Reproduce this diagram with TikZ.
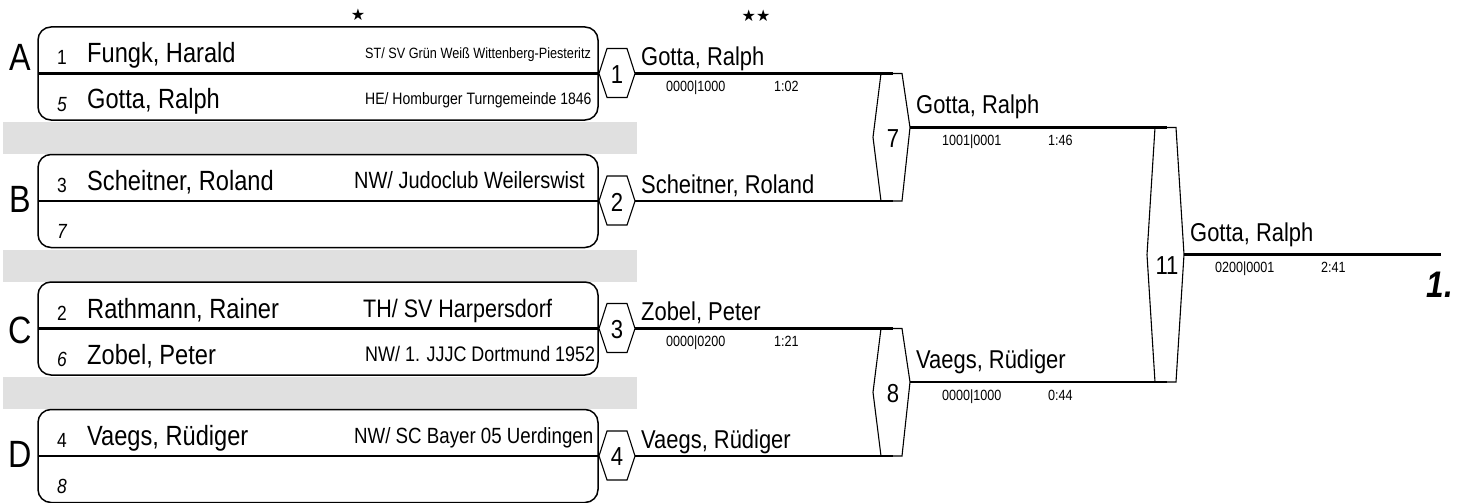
\documentclass[tikz,border=0pt]{standalone}
\usepackage{fontspec}
\setmainfont{Liberation Sans}[FakeStretch=0.85]
\newfontfamily\symfont{DejaVu Sans}
\definecolor{bandgray}{RGB}{224,224,224}
\tikzset{
  boxframe/.style={draw, line width=1.5pt, rounded corners=13pt},
  divline/.style={line width=2.6pt},
  hexframe/.style={draw, line width=1.1pt, line join=miter},
  bline/.style={line width=2.6pt},
  poolletter/.style={font=\fontsize{38}{38}\selectfont, inner sep=0pt},
  seed/.style={font=\fontsize{20.5}{20}\selectfont, inner sep=0pt, anchor=base},
  boxname/.style={font=\fontsize{27.8}{28}\selectfont, inner sep=0pt, anchor=base west},
  club/.style={inner sep=0pt, anchor=base west},
  bname/.style={font=\fontsize{25.8}{26}\selectfont, inner sep=0pt, anchor=base west},
  score/.style={font=\fontsize{14.8}{15}\selectfont, inner sep=0pt, anchor=base west},
  hexnum/.style={font=\fontsize{26}{26}\selectfont, inner sep=0pt},
  starmark/.style={font=\symfont\fontsize{16}{16}\selectfont, inner sep=0pt},
}
% small hexagon: name, cx, cy, number
\newcommand\smallhex[4]{%
  \draw[hexframe] (#2-18,#3) -- (#2-10,#3-25) -- (#2+10,#3-25) -- (#2+18,#3)
     -- (#2+10,#3+24) -- (#2-10,#3+24) -- cycle;
  \node[hexnum] (#1) at (#2,#3+1) {#4};
  \coordinate (#1r) at (#2+18,#3);
}
% big hexagon: name, cx, ytop, ybot, yright, number
\newcommand\bighex[6]{%
  \draw[hexframe] (#2-20,{(#3+#4)/2}) -- (#2-12,#3) -- (#2+9,#3) -- (#2+17,#5)
     -- (#2+9,#4) -- (#2-12,#4) -- cycle;
  \node[hexnum, anchor=north] (#1) at (#2,#5+2) {#6};
  \coordinate (#1r) at (#2+17,#5);
  \coordinate (#1ina) at (#2,#3);
  \coordinate (#1inb) at (#2,#4);
}
\begin{document}
\begin{tikzpicture}[x=1pt,y=-1pt]
\useasboundingbox (0,0) rectangle (1465,503);

% gray bands
\fill[bandgray] (3,122) rectangle (637,154);
\fill[bandgray] (3,249.5) rectangle (637,281.5);
\fill[bandgray] (3,377) rectangle (637,409);

% stars
\node[starmark] (star1) at (358,15) {★};
\node[starmark] (star2) at (756,16) {★★};

% ---- Pool A (top 27)
\draw[boxframe] (38,27) rectangle (598,120);
\draw[divline] (38,73.5) -- (598,73.5);
\node[poolletter] (LA) at (20,57) {A};
\node[seed] (sA1) at (62,65) {1};
\node[seed] (sA2) at (62,111) {\itshape 5};
\node[boxname] (nA1) at (87,63) {Fungk, Harald};
\node[boxname] (nA2) at (87,109) {Gotta, Ralph};
\node[club, font=\fontsize{14.9}{15}\selectfont] (cA1) at (365,58.3) {ST/ SV Grün Weiß Wittenberg-Piesteritz};
\node[club, font=\fontsize{16.5}{16}\selectfont] (cA2) at (365,104.9) {HE/ Homburger Turngemeinde 1846};

% ---- Pool B (top 154.5)
\draw[boxframe] (38,154.5) rectangle (598,247.5);
\draw[divline] (38,201) -- (598,201);
\node[poolletter] (LB) at (20,199) {B};
\node[seed] (sB1) at (62,192.5) {3};
\node[seed] (sB2) at (62,238.5) {\itshape 7};
\node[boxname] (nB1) at (87,190.5) {Scheitner, Roland};
\node[club, font=\fontsize{23.5}{24}\selectfont] (cB1) at (354,188.9) {NW/ Judoclub Weilerswist};

% ---- Pool C (top 282)
\draw[boxframe] (38,282) rectangle (598,375);
\draw[divline] (38,328.5) -- (598,328.5);
\node[poolletter] (LC) at (20,330) {C};
\node[seed] (sC1) at (62,320) {2};
\node[seed] (sC2) at (62,366) {\itshape 6};
\node[boxname] (nC1) at (87,318) {Rathmann, Rainer};
\node[boxname] (nC2) at (87,364) {Zobel, Peter};
\node[club, font=\fontsize{25.3}{25}\selectfont] (cC1) at (363,317.1) {TH/ SV Harpersdorf};
\node[club, font=\fontsize{21.1}{21}\selectfont] (cC2) at (365,361.6) {NW/ 1. JJJC Dortmund 1952};

% ---- Pool D (top 409.5)
\draw[boxframe] (38,409.5) rectangle (598,502.5);
\draw[divline] (38,456) -- (598,456);
\node[poolletter] (LD) at (20,454) {D};
\node[seed] (sD1) at (62,447.5) {4};
\node[seed] (sD2) at (62,493.5) {\itshape 8};
\node[boxname] (nD1) at (87,445.5) {Vaegs, Rüdiger};
\node[club, font=\fontsize{22}{22}\selectfont] (cD1) at (354,443.4) {NW/ SC Bayer 05 Uerdingen};

% ---- hexagons
\smallhex{h1}{617}{73.5}{1}
\smallhex{h2}{617}{201}{2}
\smallhex{h3}{617}{328.5}{3}
\smallhex{h4}{617}{456}{4}
\bighex{h7}{893}{73.5}{201}{127.5}{7}
\bighex{h8}{893}{328.5}{456}{382}{8}
\bighex{h11}{1167}{127.5}{382}{254.5}{11}
\coordinate (finish) at (1441,254.5);

% ---- connectors
\draw[bline] (h1r) -- (h7ina);
\draw[bline] (h2r) -- (h7inb);
\draw[bline] (h3r) -- (h8ina);
\draw[bline] (h4r) -- (h8inb);
\draw[bline] (h7r) -- (h11ina);
\draw[bline] (h8r) -- (h11inb);
\draw[bline] (h11r) -- (finish);

% ---- bracket names and scores
\node[bname] (w1) at (641,65.5) {Gotta, Ralph};
\node[score] (p1) at (666,91.5) {0000|1000};
\node[score] (t1) at (774,91.5) {1:02};
\node[bname] (w2) at (641,193) {Scheitner, Roland};
\node[bname] (w3) at (641,320.5) {Zobel, Peter};
\node[score] (p3) at (666,346.5) {0000|0200};
\node[score] (t3) at (774,346.5) {1:21};
\node[bname] (w4) at (641,448) {Vaegs, Rüdiger};
\node[bname] (w7) at (916,113.5) {Gotta, Ralph};
\node[score] (p7) at (942,145.5) {1001|0001};
\node[score] (t7) at (1048,145.5) {1:46};
\node[bname] (w8) at (916,368) {Vaegs, Rüdiger};
\node[score] (p8) at (942,400) {0000|1000};
\node[score] (t8) at (1048,400) {0:44};
\node[bname] (w11) at (1190,241.5) {Gotta, Ralph};
\node[score] (p11) at (1215,272.5) {0200|0001};
\node[score] (t11) at (1321,272.5) {2:41};

\node[inner sep=0pt, font=\fontsize{37}{37}\selectfont\bfseries\itshape] (place) at (1440,285) {1.};
\end{tikzpicture}
\end{document}
